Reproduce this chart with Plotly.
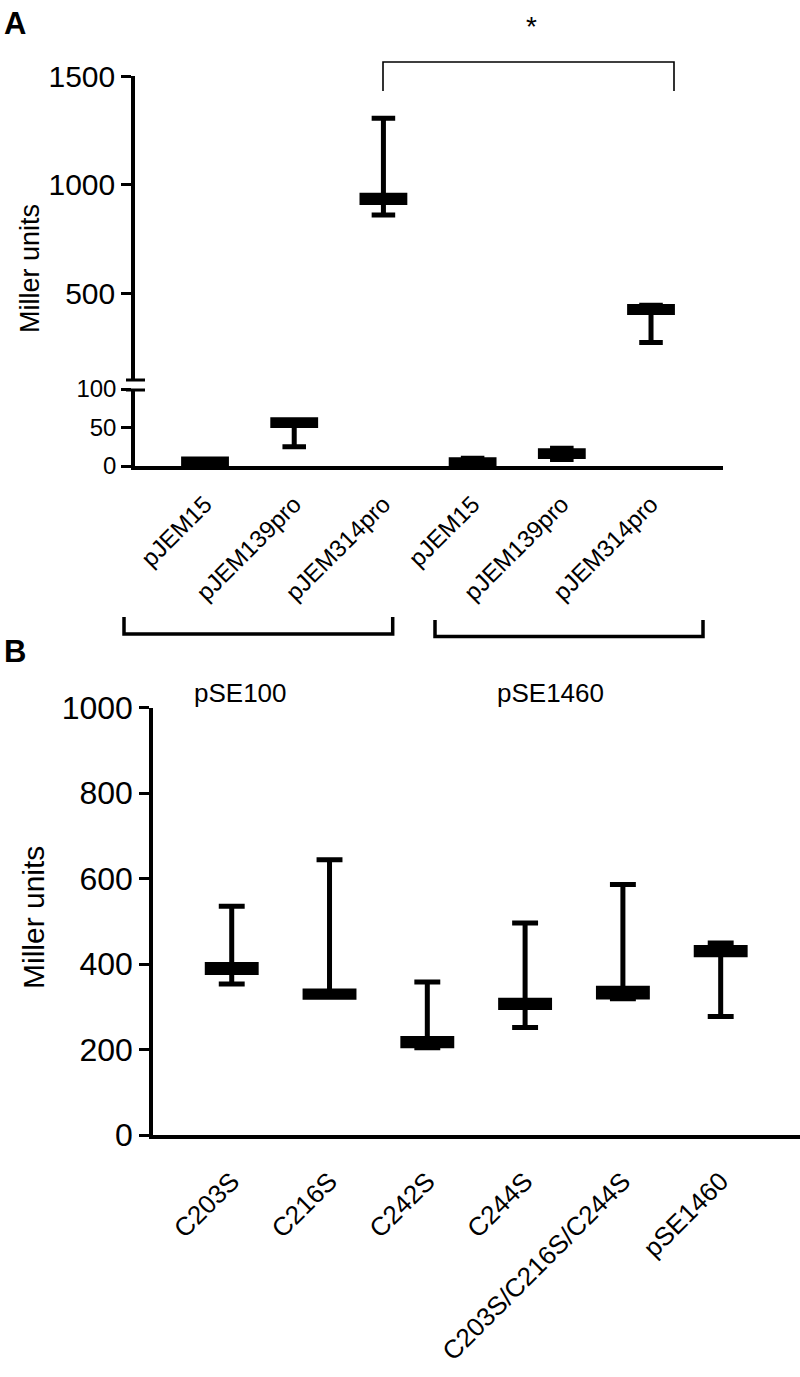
import plotly.graph_objects as go

# ---------------- data ----------------
a_labels = ["pJEM15", "pJEM139pro", "pJEM314pro", "pJEM15", "pJEM139pro", "pJEM314pro"]
a_min = [2, 25, 860, 2, 8.5, 273]
a_q1 = [3, 52.5, 917, 2.5, 12.4, 411]
a_med = [6, 56, 935, 5, 16, 425]
a_q3 = [9, 60, 951, 8, 19.8, 439]
a_max = [9, 60, 1305, 10, 23.2, 444.5]
a_upper_ticks = [500, 1000, 1500]
a_lower_ticks = [0, 50, 100]

b_labels = ["C203S", "C216S", "C242S", "C244S", "C203S/C216S/C244S", "pSE1460"]
b_min = [353, 322, 204, 251.5, 319, 277]
b_q1 = [380, 322, 209, 298, 323, 421.6]
b_med = [390, 330, 215, 305, 333, 430]
b_q3 = [399, 337, 226, 315, 343, 438.6]
b_max = [535, 644, 358, 496, 586, 449]
b_ticks = [0, 200, 400, 600, 800, 1000]

group_labels = ["pSE100", "pSE1460"]

W, H = 800, 1377
FONT = "Arial, Liberation Sans, sans-serif"


def px(x):
    return x / W


def py(y):
    return 1 - y / H


a_pos = list(range(len(a_labels)))
b_pos = list(range(len(b_labels)))

fig = go.Figure()

box_style = dict(
    fillcolor="black",
    line=dict(color="black", width=5),
    boxpoints=False,
    showlegend=False,
    hoverinfo="skip",
)

# Panel A: same boxes drawn on both halves of the broken axis (clipped by range)
for yax in ["y", "y2"]:
    fig.add_trace(go.Box(
        x=a_pos, q1=a_q1, median=a_med, q3=a_q3,
        lowerfence=a_min, upperfence=a_max,
        width=0.48, whiskerwidth=0.55,
        xaxis="x", yaxis=yax, **box_style))

# Panel B
fig.add_trace(go.Box(
    x=b_pos, q1=b_q1, median=b_med, q3=b_q3,
    lowerfence=b_min, upperfence=b_max,
    width=0.5, whiskerwidth=0.53,
    xaxis="x2", yaxis="y3", **box_style))

axis_common = dict(showgrid=False, zeroline=False, showline=True, automargin=False,
                   linecolor="black", linewidth=3.5, mirror=False)

fig.update_layout(
    width=W, height=H,
    margin=dict(l=0, r=0, t=0, b=0, autoexpand=False),
    paper_bgcolor="white", plot_bgcolor="white",
    font=dict(family=FONT, color="black"),
    xaxis=dict(domain=[px(135), px(723)], range=[-0.785, 5.807], anchor="y2",
               tickvals=a_pos, ticktext=a_labels, tickangle=-45, ticks="",
               tickfont=dict(size=24, family=FONT), ticklabelstandoff=11,
               **axis_common),
    yaxis=dict(domain=[py(380), py(76)], range=[100, 1500], anchor="x",
               tickvals=a_upper_ticks, ticks="outside", ticklen=10, tickwidth=3,
               tickcolor="black", tickfont=dict(size=30, family=FONT),
               **axis_common),
    yaxis2=dict(domain=[py(466), py(389)], range=[0, 100], anchor="x",
                tickvals=a_lower_ticks, ticks="outside", ticklen=10, tickwidth=3,
                tickcolor="black", tickfont=dict(size=24, family=FONT),
                **axis_common),
    xaxis2=dict(domain=[px(153), 1.0], range=[-0.805, 5.811], anchor="y3",
                tickvals=b_pos, ticktext=b_labels, tickangle=-45, ticks="",
                tickfont=dict(size=26, family=FONT), ticklabelstandoff=17,
                **axis_common),
    yaxis3=dict(domain=[py(1135), py(707.5)], range=[0, 1000], anchor="x2",
                tickvals=b_ticks, ticks="outside", ticklen=10, tickwidth=3,
                tickcolor="black", tickfont=dict(size=32, family=FONT),
                **axis_common),
)

shapes = []
# axis break marks
for yy in (380, 390):
    shapes.append(dict(type="line", xref="paper", yref="paper",
                       x0=px(126), x1=px(145), y0=py(yy), y1=py(yy),
                       line=dict(color="black", width=3)))
# significance bracket
shapes.append(dict(type="path", xref="paper", yref="paper",
                   path=f"M {px(383)} {py(91)} L {px(383)} {py(62)} L {px(674)} {py(62)} L {px(674)} {py(91)}",
                   line=dict(color="black", width=1.6)))
# group brackets under panel A labels
for (xl, xr, ytop, ybot) in [(124, 392.7, 617, 634), (435, 703, 620, 636.5)]:
    shapes.append(dict(type="path", xref="paper", yref="paper",
                       path=f"M {px(xl)} {py(ytop)} L {px(xl)} {py(ybot)} L {px(xr)} {py(ybot)} L {px(xr)} {py(ytop)}",
                       line=dict(color="black", width=3.5)))
fig.update_layout(shapes=shapes)

ann = []
ann.append(dict(text="<b>A</b>", x=px(2), y=py(4), xref="paper", yref="paper",
                xanchor="left", yanchor="top", showarrow=False,
                font=dict(size=31, family=FONT)))
ann.append(dict(text="<b>B</b>", x=px(2), y=py(632), xref="paper", yref="paper",
                xanchor="left", yanchor="top", showarrow=False,
                font=dict(size=31, family=FONT)))
ann.append(dict(text="*", x=px(531), y=py(26), xref="paper", yref="paper",
                xanchor="center", yanchor="middle", showarrow=False,
                font=dict(size=28, family=FONT)))
ann.append(dict(text="Miller units", x=px(30), y=py(269), xref="paper", yref="paper",
                xanchor="center", yanchor="middle", textangle=-90, showarrow=False,
                font=dict(size=27, family=FONT)))
ann.append(dict(text="Miller units", x=px(33), y=py(918), xref="paper", yref="paper",
                xanchor="center", yanchor="middle", textangle=-90, showarrow=False,
                font=dict(size=30, family=FONT)))
ann.append(dict(text=group_labels[0], x=px(240), y=py(693), xref="paper", yref="paper",
                xanchor="center", yanchor="middle", showarrow=False,
                font=dict(size=26, family=FONT)))
ann.append(dict(text=group_labels[1], x=px(550), y=py(693), xref="paper", yref="paper",
                xanchor="center", yanchor="middle", showarrow=False,
                font=dict(size=26, family=FONT)))
fig.update_layout(annotations=ann)

fig.write_html("out.html", config={"displayModeBar": False},
               post_script="document.body.style.margin='0';document.body.style.padding='0';")
